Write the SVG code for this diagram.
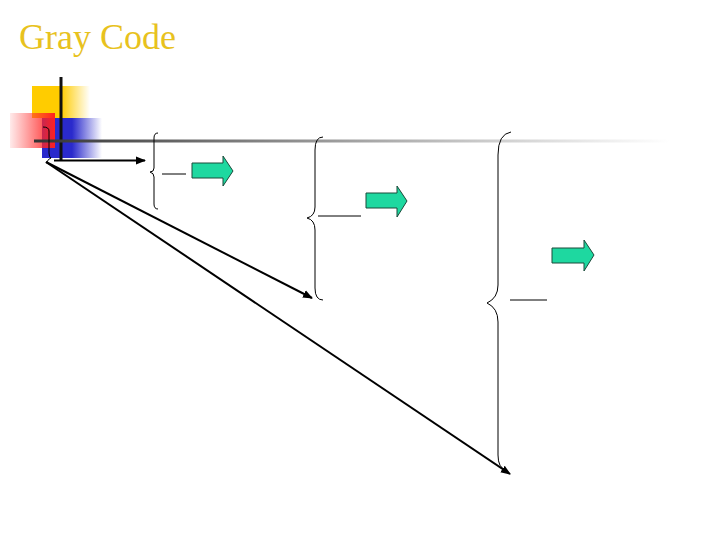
<svg xmlns="http://www.w3.org/2000/svg" width="720" height="540" viewBox="0 0 720 540">
<style>
.title{font-family:"Liberation Serif",serif;font-size:36px;fill:#e8c21e}
.brace{fill:none;stroke:#000;stroke-width:1}
.tick{stroke:#000;stroke-width:1}
.conn{stroke:#000;stroke-width:2;fill:none;marker-end:url(#ah)}
.garrow{fill:#1ed8a0;stroke:#1a4a3a;stroke-width:1}
</style>
<defs>
<linearGradient id="gy" x1="0" y1="0" x2="1" y2="0"><stop offset="0" stop-color="#ffcc00"/><stop offset="0.5" stop-color="#ffcc00"/><stop offset="1" stop-color="#ffcc00" stop-opacity="0"/></linearGradient>
<linearGradient id="gr" x1="0" y1="0" x2="1" y2="0"><stop offset="0" stop-color="#ff3333" stop-opacity="0.1"/><stop offset="1" stop-color="#ff2020"/></linearGradient>
<linearGradient id="gb" x1="0" y1="0" x2="1" y2="0"><stop offset="0" stop-color="#2a2acc"/><stop offset="0.5" stop-color="#2a2acc"/><stop offset="1" stop-color="#2a2acc" stop-opacity="0"/></linearGradient>
<linearGradient id="gl" x1="0" y1="0" x2="1" y2="0"><stop offset="0" stop-color="#333"/><stop offset="0.3" stop-color="#777"/><stop offset="1" stop-color="#888" stop-opacity="0"/></linearGradient>
<marker id="ah" viewBox="0 0 10 10" refX="9" refY="5" markerWidth="5" markerHeight="5" orient="auto"><path d="M0,1 L10,5 L0,9 Z" fill="#000"/></marker>
</defs>
<text class="title" x="19" y="49">Gray Code</text>
<g id="decor">
<rect x="32" y="86" width="58" height="32" fill="url(#gy)"/>
<rect x="42" y="118" width="60" height="40" fill="url(#gb)"/>
<rect x="10" y="113" width="45" height="35" fill="url(#gr)"/>
<line x1="61" y1="77" x2="61" y2="160" stroke="#111" stroke-width="3"/>
<rect x="34" y="139.5" width="636" height="3" fill="url(#gl)"/>
<path class="brace" d="M43,127 Q49,127 49,131 L49,153 Q49,157 51,158 Q48,159 47,162"/>
</g>
<g id="node1">
<path class="brace" d="M158,133 Q154,133 154,138 L154,168 Q154,172 150,172 Q154,173 154,177 L154,204 Q154,209 158,209"/>
<line class="tick" x1="162" y1="174" x2="186" y2="174"/>
<path class="garrow" d="M192,163 L223,163 L223,156 L233,171 L223,186 L223,178 L192,178 Z"/>
</g>
<g id="node2">
<path class="brace" d="M323,137 Q315,137 315,150 L315,207 Q315,216 307,218 Q315,220 315,230 L315,288 Q315,300 323,300"/>
<line class="tick" x1="318" y1="216" x2="361" y2="216"/>
<path class="garrow" d="M366,193 L397,193 L397,186 L407,201 L397,217 L397,208 L366,208 Z"/>
</g>
<g id="node3">
<path class="brace" d="M511,132 Q498,134 498,155 L498,285 Q498,298 487,303 Q498,308 498,322 L498,455 Q498,468 506,470"/>
<line class="tick" x1="510" y1="300" x2="547" y2="300"/>
<path class="garrow" d="M552,248 L584,248 L584,240 L594,255 L584,271 L584,263 L552,263 Z"/>
</g>
<g id="connectors">
<line class="conn" x1="54" y1="160.5" x2="145" y2="160.5"/>
<line class="conn" x1="46" y1="162" x2="312" y2="298"/>
<line class="conn" x1="46" y1="162" x2="510" y2="474"/>
</g>
</svg>
